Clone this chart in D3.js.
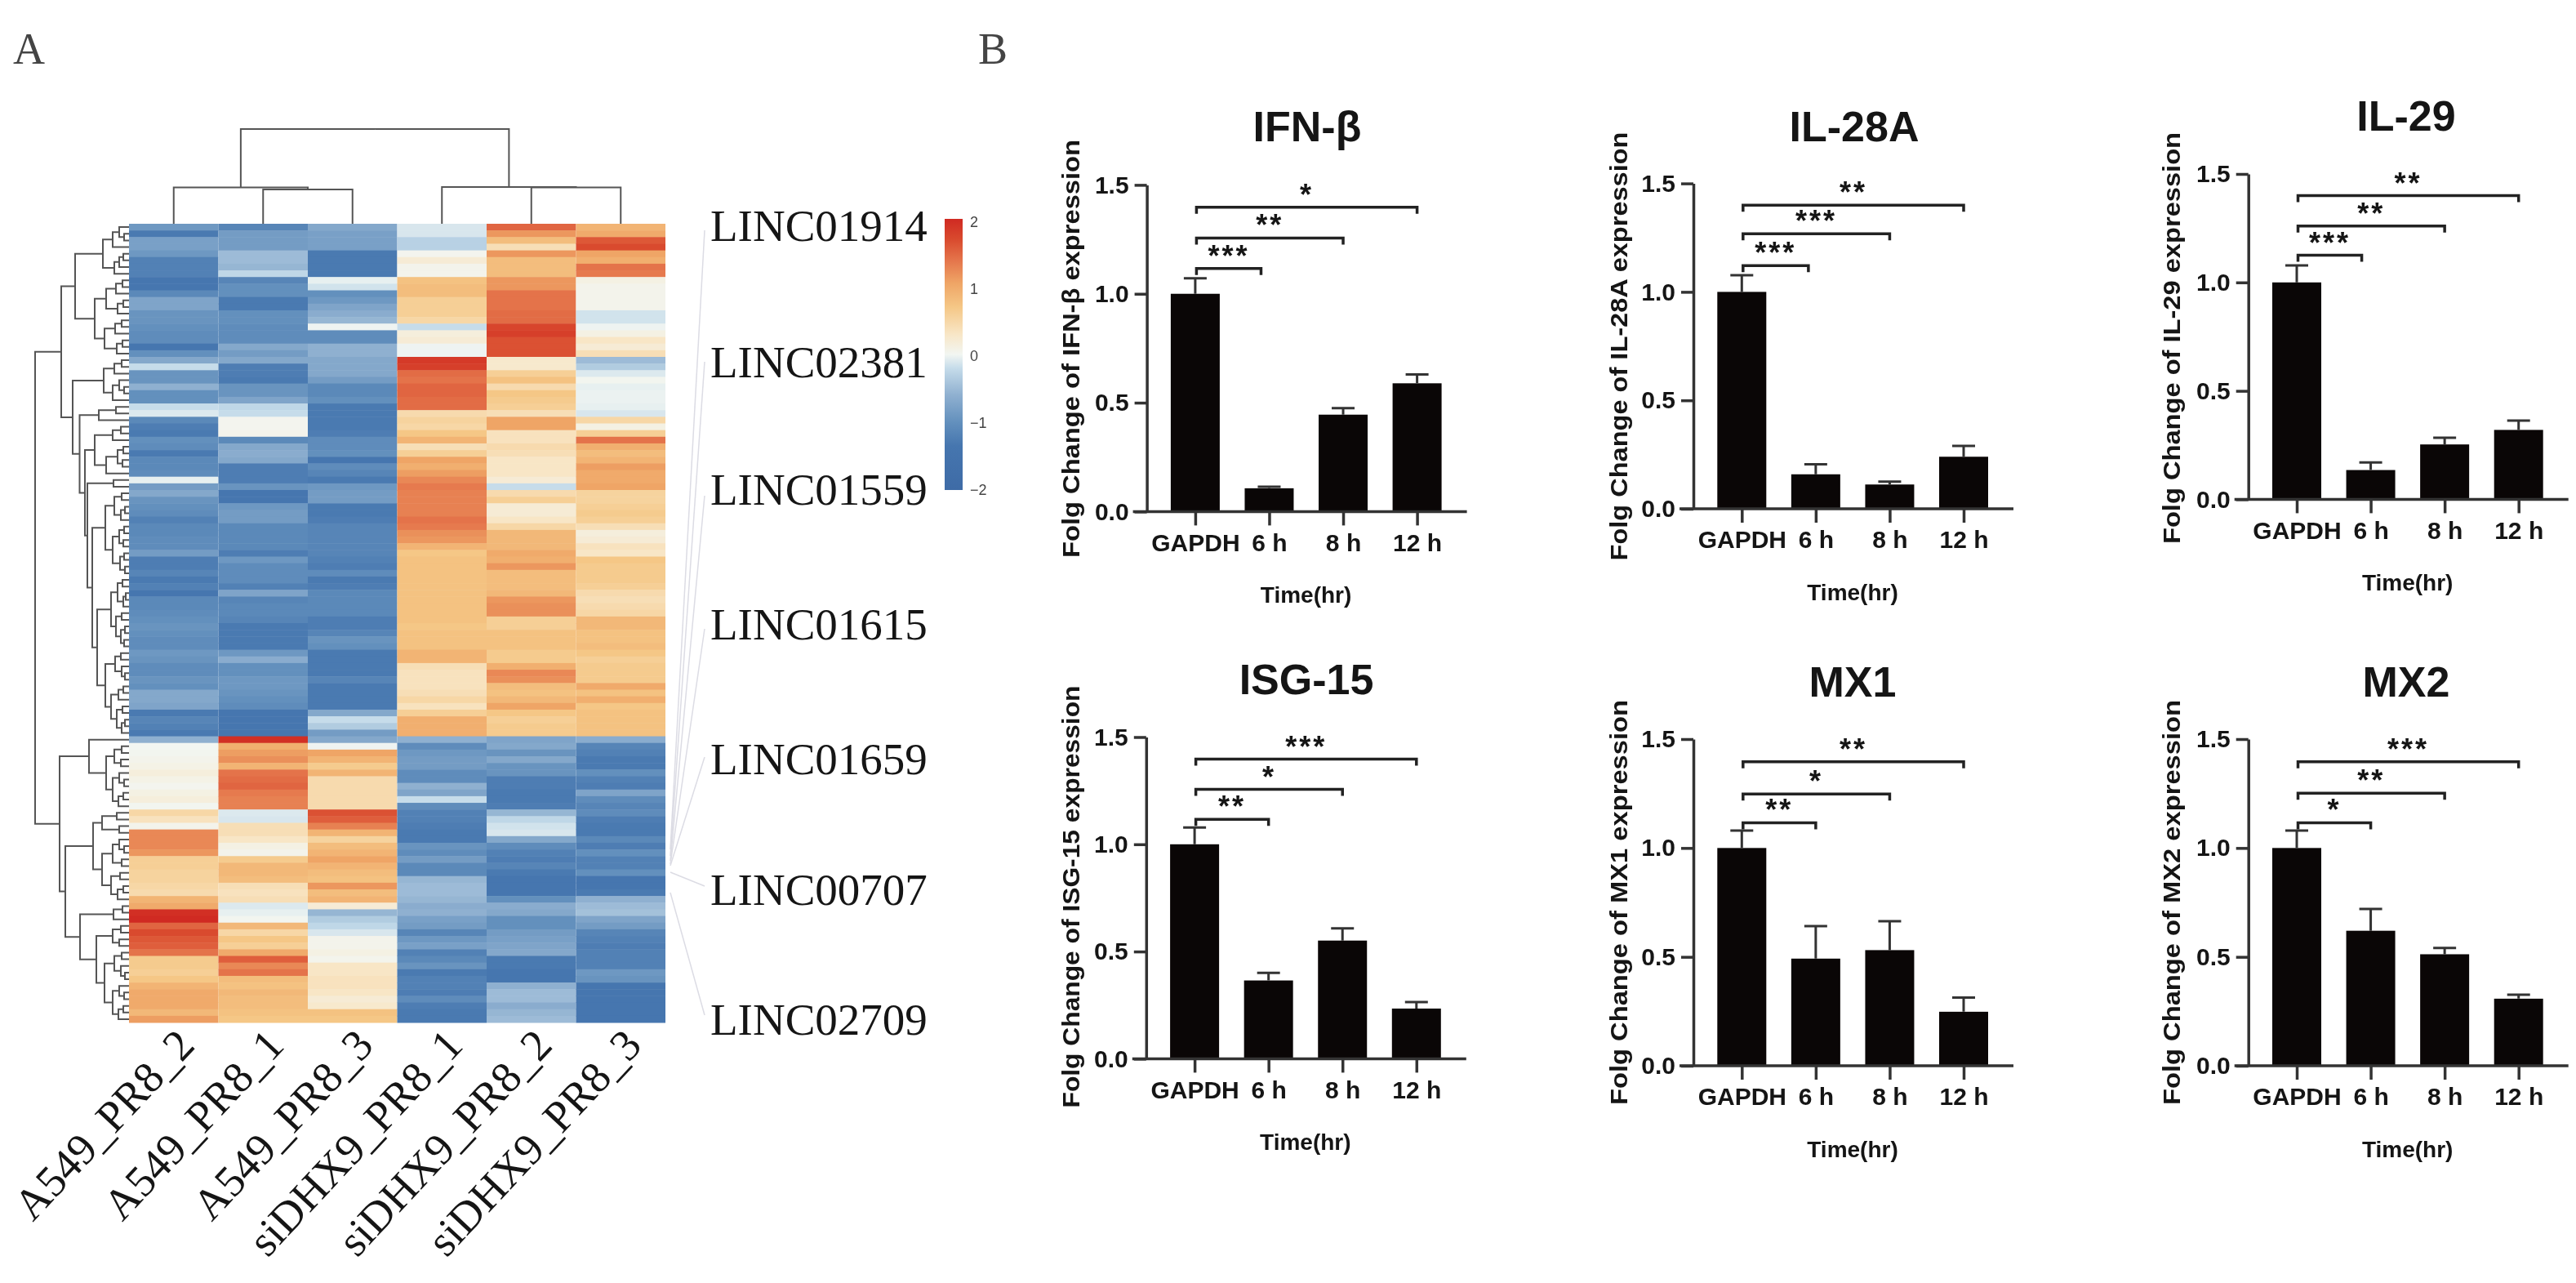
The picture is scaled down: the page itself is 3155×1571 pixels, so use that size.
<!DOCTYPE html>
<html>
  <head>
    <meta charset="utf-8">
    <title>LINC heatmap and interferon bar charts</title>
    <script src="https://cdn.jsdelivr.net/npm/d3@7"></script>
    <style>
      body { margin: 0; background: #fff; }
      #chart { filter: blur(0.7px); }
      text { fill: #151515; }
      .sans { font-family: "Liberation Sans", Arial, sans-serif; font-weight: bold; }
      .serif { font-family: "Liberation Serif", "Times New Roman", serif; font-weight: normal; }
    </style>
  </head>

  <body>
    <svg id="chart" width="3155" height="1571"></svg>

    <script>
      // heatmap data, one list per sample, rows top to bottom
      samples = ["A549_PR8_2", "A549_PR8_1", "A549_PR8_3", "siDHX9_PR8_1", "siDHX9_PR8_2", "siDHX9_PR8_3"];
      a549_2 = [-.9,-1.3,-.8,-.8,-.9,-1.2,-1.2,-1.2,-1.35,-1.35,
        -1.1,-.75,-.75,-.95,-.95,-1,-1.05,-1.05,-1.35,-1,
        -.7,-.2,-.95,-.95,-.6,-1,-1,-.2,-.1,-1.1,
        -1.25,-1.3,-1,-1.05,-1.3,-1.1,-1.1,-1.05,-.05,-.85,
        -.7,-.95,-1,-1.05,-1.2,-1.1,-1.1,-1.05,-1.05,-.85,
        -1.25,-1.25,-1.15,-1.3,-1.2,-1.35,-1.1,-1.1,-1.05,-1,
        -.95,-1,-1.05,-1.05,-.9,-.95,-1.05,-1.05,-.95,-1,
        -.7,-.7,-.75,-1.3,-1.15,-1.2,-1.3,-.6,0,.02,
        .05,.08,.15,.08,.03,.1,.15,.02,.5,.35,
        .05,1.25,1.25,1.25,1.15,.6,.6,.55,.55,.5,
        .45,.9,1,1.95,2,1.5,1.7,1.6,1.55,1.4,
        .65,.65,.6,.7,.9,1,1,1,.85,1.1];
      a549_1 = [-1.15,-.85,-.85,-.85,-.5,-.5,-.55,-.25,-1.15,-1,
        -1,-1.3,-1.3,-1,-1,-1.05,-1.05,-1.05,-.7,-.85,
        -.7,-1.25,-1.25,-1.3,-.95,-.95,-.75,-.25,-.2,.03,
        .03,.05,-1.1,-.7,-.65,-.7,-1.25,-1.25,-1.25,-.95,
        -1.35,-1.35,-.9,-.85,-.85,-1.1,-1.1,-1.1,-1.1,-1.25,
        -.9,-1.05,-1.05,-1.05,-1.2,-.75,-1.15,-1.1,-1.1,-1.15,
        -1.3,-1.3,-1.3,-1.3,-.9,-.65,-1,-1,-.9,-.9,
        -.95,-1,-1.05,-1.35,-1.35,-1.35,-1.35,1.95,.95,1.1,
        1.2,.9,1.4,1.45,1.5,1.35,1.3,1.3,-.1,-.12,
        .4,.4,.3,.1,.05,.65,.85,.85,.8,.4,
        .35,.4,-.1,-.05,.02,.85,.5,.7,.6,1,
        1.55,1.25,1.4,.8,.75,.85,.8,.8,.75,.7];
      a549_3 = [-.7,-.8,-.8,-.8,-1.3,-1.3,-1.3,-1.3,-.05,-.15,
        -1,-.9,-.75,-.65,-.55,-.02,-1.05,-1.05,-.6,-.6,
        -.7,-.7,-.7,-.85,-1.1,-1.1,-1,-1.3,-1.3,-1.3,
        -1.3,-1.25,-1.05,-1.05,-1,-1.35,-1.05,-1.15,-1.3,-.9,
        -.85,-.85,-1.3,-1.3,-1.25,-1.15,-1.15,-1.15,-1.15,-1.15,
        -1.2,-1.25,-1.05,-1.3,-1.25,-1.1,-1.1,-1.1,-1.1,-1.25,
        -1.25,-1.15,-.95,-1,-1.3,-1.3,-1.3,-1.3,-1.15,-1.3,
        -1.3,-1.3,-1.3,-.7,-.2,-.35,-.85,-.7,-.02,1.05,
        .9,.65,.9,.45,.45,.45,.45,.45,1.65,1.55,
        1.3,.9,.55,.8,.9,1.05,.9,.8,.75,1.15,
        .8,.9,.2,-.55,-.35,-.25,-.12,.05,.05,.1,
        .04,.3,.3,.35,.35,.3,.2,.25,.75,.7];
      si_1 = [-.12,-.12,-.3,-.3,.03,.2,.05,.05,.75,.8,
        .8,.6,.6,.6,.5,-.2,.15,.2,-.02,-.02,
        1.85,1.8,1.45,1.4,1.5,1.5,1.45,1.45,.45,.55,
        .5,.7,.9,.4,.6,1.05,.95,1.1,1.25,1.35,
        1.3,1.3,1.3,1.3,1.4,1.35,1.2,1.15,.9,.7,
        .75,.75,.75,.75,.75,.75,.75,.75,.75,.75,
        .7,.75,.75,.75,.9,.9,.4,.35,.35,.35,
        .4,.5,.35,.6,.95,.95,.95,-.6,-1.05,-.9,
        -.85,-.85,-1.05,-1.05,-.6,-.75,-.2,-1.05,-1.2,-1.2,
        -1.25,-1.3,-1.3,-.95,-1.05,-.85,-1.1,-1.1,-.55,-.5,
        -.5,-.55,-.65,-.6,-.8,-.85,-1.15,-.9,-.8,-1.2,
        -1.1,-.95,-1.3,-1.2,-1.2,-1.25,-1.05,-1.25,-1.3,-1.3];
      si_2 = [1.5,1.15,.8,.4,1.15,.8,.8,.8,1.15,1.15,
        1.4,1.4,1.4,1.45,1.45,1.75,1.8,1.65,1.65,1.65,
        .25,.25,.6,.75,.45,.7,.65,.6,.4,1.05,
        1.05,.35,.35,.45,.4,.3,.3,.3,.2,-.2,
        .45,.6,.2,.2,.3,.5,.85,.85,.85,1,
        .95,1.15,.8,.8,.8,.85,1.15,1.2,1.2,.6,
        .6,.75,.75,.75,.65,.65,.95,1.25,1.2,.8,
        .75,.85,1.05,.7,.6,.65,.65,-.75,-.7,-.95,
        -.7,-.95,-.95,-1.25,-1.25,-1.3,-1.3,-1.25,-.55,-.25,
        -.15,-.12,-.7,-1.05,-1.2,-1.25,-1.15,-1.3,-1.35,-1.35,
        -1.35,-1,-.65,-.7,-1,-1,-.85,-.8,-.75,-.7,
        -1.3,-1.3,-1.35,-1.35,-.6,-.5,-.5,-.65,-.55,-.5];
      si_3 = [.9,1,1.6,1.7,1.05,.95,1.4,1.35,.1,.05,
        .05,.05,.05,-.15,-.15,-.02,.1,.3,.2,.4,
        -.5,-.35,-.1,.02,-.05,-.03,-.03,-.05,-.12,.5,
        .1,.6,1.4,.95,.8,.9,1.1,1,1,1.05,
        .55,.55,.6,.65,.6,.4,.15,.2,.35,.3,
        .7,.65,.65,.65,.6,.45,.4,.45,.5,.85,
        .85,.75,.75,.8,.7,.6,.65,.65,.65,1,
        .75,.95,.7,.75,.75,.75,.75,-.65,-1.15,-1.2,
        -1.3,-1.3,-1,-1.2,-1.25,-.75,-1.05,-1.15,-1.05,-1.25,
        -1.3,-1.3,-1.1,-1.25,-1,-1.2,-1.2,-1,-1.35,-1.35,
        -1.3,-.6,-.5,-.45,-.75,-.85,-1.15,-1.2,-1.25,-1.2,
        -1.2,-1.2,-.9,-.95,-1.35,-1.35,-1.35,-1.35,-1.35,-1.35];
      heatValues = [a549_2, a549_1, a549_3, si_1, si_2, si_3];
      legendTicks = [-2, -1, 0, 1, 2];
      lincLabels = ["LINC01914", "LINC02381", "LINC01559", "LINC01615", "LINC01659", "LINC00707", "LINC02709"];

      // dendrograms: [merge distance, child, child], 0 is a leaf
      columnTree = [116, [44.5, 0, [42, 0, 0]], [45, 0, [44.5, 0, 0]]];
      rowTree = [115,
        [83,
          [66,
            [32, [20, [12, 0, [6, 0, 0]], 0], [18, [12, [7, 0, 0], 0], 0]],
            [42, [28, [16, [8, 0, 0], 0], [14, [7, 0, 0], 0]], [30, [17, [9, 0, 0], 0], [15, [8, 0, 0], 0]]]],
          [69,
            [31, [18, [9, 0, 0], 0], [20, [12, 0, [6, 0, 0]], 0]],
            [60.5,
              [37, [16, 0, 0], 0],
              [54,
                [42, [20, [10, 0, 0], 0], [28, [14, [7, 0, 0], [8, 0, 0]], 0]],
                [51,
                  [19, 0, 0],
                  [45,
                    [29, [18, [9, 0, 0], [10, [5, 0, 0], 0]], [20, [12, [6, 0, 0], [7, 0, 0]], [11, [6, 0, 0], [5, 0, 0]]]],
                    [39,
                      [22, [14, [8, 0, 0], [7, [4, 0, 0], 0]], [16, [9, 0, 0], [10, [5, 0, 0], [6, 0, 0]]]],
                      [29, [17, [10, 0, 0], [9, 0, [5, 0, 0]]], [22, [13, [7, 0, 0], 0], [15, [8, 0, 0], [9, [5, 0, 0], 0]]]]]]]]]]],
        [85,
          [49, 0, [28, [18, [9, 0, 0], [10, 0, 0]], [20, [12, 0, [6, 0, 0]], [13, [7, 0, 0], 0]]]],
          [78,
            [44,
              [33, [15, 0, 0], [12, 0, 0]],
              [33, [20, [12, 0, [6, 0, 0]], [9, 0, 0]], [22, [11, 0, 0], [14, [7, 0, 0], 0]]]],
            [60,
              [19, [8, 0, 0], 0],
              [40,
                [20, [10, 0, 0], [12, 0, 0]],
                [30, [18, [9, 0, 0], [10, 0, [5, 0, 0]]], [20, [12, 0, [6, 0, 0]], [13, [7, 0, 0], 0]]]]]]]];

      // bar chart data
      genes = ["IFN-β", "IL-28A", "IL-29", "ISG-15", "MX1", "MX2"];
      conditions = ["GAPDH", "6 h", "8 h", "12 h"];
      yTicks = [0, 0.5, 1, 1.5];
      meansIfn = [1, .107, .445, .589];
      meansIl28 = [1, .159, .112, .24];
      meansIl29 = [1, .135, .253, .32];
      meansIsg = [1, .365, .551, .234];
      meansMx1 = [1, .492, .531, .248];
      meansMx2 = [1, .62, .512, .308];
      capsIfn = [1.071, .114, .475, .63];
      capsIl28 = [1.077, .205, .125, .29];
      capsIl29 = [1.078, .17, .284, .363];
      capsIsg = [1.078, .4, .608, .264];
      capsMx1 = [1.08, .641, .664, .313];
      capsMx2 = [1.08, .72, .541, .326];
      // significance brackets, lowest first (GAPDH vs 6 h, 8 h, 12 h)
      levelsIfn = [1.116, 1.256, 1.397];
      levelsIl28 = [1.121, 1.268, 1.4];
      levelsIl29 = [1.125, 1.26, 1.4];
      levelsIsg = [1.116, 1.256, 1.397];
      levelsMx1 = [1.116, 1.248, 1.396];
      levelsMx2 = [1.116, 1.252, 1.396];
      starsIfn = ["***", "**", "*"];
      starsIl28 = ["***", "***", "**"];
      starsIl29 = ["***", "**", "**"];
      starsIsg = ["**", "*", "***"];
      starsMx1 = ["**", "*", "**"];
      starsMx2 = ["*", "**", "***"];
      means = [meansIfn, meansIl28, meansIl29, meansIsg, meansMx1, meansMx2];
      caps = [capsIfn, capsIl28, capsIl29, capsIsg, capsMx1, capsMx2];
      levels = [levelsIfn, levelsIl28, levelsIl29, levelsIsg, levelsMx1, levelsMx2];
      stars = [starsIfn, starsIl28, starsIl29, starsIsg, starsMx1, starsMx2];

      // layout of the six bar panels
      panels = [
        { axisX: 1404.6, yTop: 226.4, yBase: 626.4, titleX: 1601, titleY: 173, labelX: 1322, labelY: 427, labelLen: 512, lowShift: -10 },
        { axisX: 2074, yTop: 224.6, yBase: 623, titleX: 2271, titleY: 173, labelX: 1993, labelY: 424, labelLen: 525, lowShift: -9 },
        { axisX: 2753.7, yTop: 213, yBase: 611.4, titleX: 2947, titleY: 160, labelX: 2670, labelY: 414, labelLen: 504, lowShift: -11 },
        { axisX: 1403.8, yTop: 902.5, yBase: 1296.4, titleX: 1600, titleY: 850, labelX: 1322, labelY: 1098, labelLen: 517, lowShift: 0 },
        { axisX: 2074, yTop: 905, yBase: 1305, titleX: 2269, titleY: 853, labelX: 1993, labelY: 1105, labelLen: 496, lowShift: 0 },
        { axisX: 2753.7, yTop: 905, yBase: 1305, titleX: 2947, titleY: 853, labelX: 2670, labelY: 1105, labelLen: 496, lowShift: 0 }
      ];

      svg = d3.select("#chart");

      // panel letters
      svg.append("text").attr("class", "serif").attr("x", 16).attr("y", 78).attr("font-size", 54).style("fill", "#444").text("A");
      svg.append("text").attr("class", "serif").attr("x", 1198).attr("y", 78).attr("font-size", 54).style("fill", "#444").text("B");

      drawHeatmap();
      panels.forEach(drawPanel);

      function drawHeatmap() {
        heatLeft = 158;
        heatRight = 815;
        heatTop = 274;
        heatBottom = 1252;
        colour = d3.scaleLinear()
          .domain([-2, -1.35, -1, -.6, -.2, 0, .3, .7, 1.05, 1.4, 1.7, 2])
          .range(["#3e6ba6", "#4676af", "#6390bd", "#8fb0d0", "#c6dcea", "#f2f6f2", "#f8e6c6", "#f5c786", "#efa566", "#e4734a", "#d94a2e", "#d02a22"]);
        x = d3.scaleBand().domain(samples).range([heatLeft, heatRight]);
        y = d3.scaleBand().domain(d3.range(a549_2.length)).range([heatTop, heatBottom]);

        heat = svg.append("g");
        heatValues.forEach(function(col, i) {
          heat.selectAll(null)
            .data(col)
            .join("rect")
              .attr("x", x(samples[i]))
              .attr("y", function(d, r) { return y(r); })
              .attr("width", x.bandwidth())
              .attr("height", y.bandwidth() + .5)
              .attr("fill", function(d) { return colour(d); });
        });

        // sample labels
        svg.selectAll(null)
          .data(samples)
          .join("text")
            .attr("class", "serif")
            .attr("font-size", 54)
            .attr("text-anchor", "end")
            .attr("transform", function(d) {
              return "translate(" + (x(d) + x.bandwidth() / 2 + 28) + ",1282) rotate(-47)";
            })
            .text(function(d) { return d; });

        // column dendrogram
        columnRoot = d3.hierarchy(columnTree, kids);
        leafX = 0;
        columnRoot.eachAfter(function(n) {
          n.px = n.children ? d3.mean(n.children, function(c) { return c.px; }) : x(samples[leafX++]) + x.bandwidth() / 2;
          n.py = heatTop - height(n);
        });
        drawTree(columnRoot, function(n) {
          return n.children.map(function(c) {
            return "M" + c.px + "," + c.py + "V" + n.py + "H" + n.px;
          }).join("");
        });

        // row dendrogram
        rowRoot = d3.hierarchy(rowTree, kids);
        leafY = 0;
        rowRoot.eachAfter(function(n) {
          n.py = n.children ? d3.mean(n.children, function(c) { return c.py; }) : y(leafY++) + y.bandwidth() / 2;
          n.px = heatLeft - height(n);
        });
        drawTree(rowRoot, function(n) {
          return n.children.map(function(c) {
            return "M" + c.px + "," + c.py + "H" + n.px + "V" + n.py;
          }).join("");
        });

        // labels with their leader lines
        rightEnds = [1040, 1048, 1054, 1058, 1060, 1068, 1093];
        baselines = [295, 462, 618, 783, 948, 1108, 1267];
        leaderStarts = [282, 443, 607, 770, 927, 1085, 1243];
        svg.selectAll(null)
          .data(lincLabels)
          .join("text")
            .attr("class", "serif")
            .attr("x", 870)
            .attr("y", function(d, i) { return baselines[i]; })
            .attr("font-size", 55)
            .text(function(d) { return d; });
        svg.selectAll(null)
          .data(lincLabels)
          .join("line")
            .attr("x1", 863)
            .attr("y1", function(d, i) { return leaderStarts[i]; })
            .attr("x2", 821)
            .attr("y2", function(d, i) { return rightEnds[i]; })
            .attr("stroke", "#dcdce4")
            .attr("stroke-width", 1.5);

        // colour legend
        defs = svg.append("defs");
        gradient = defs.append("linearGradient")
          .attr("id", "legendGradient")
          .attr("x1", "0%").attr("x2", "0%").attr("y1", "100%").attr("y2", "0%");
        colour.domain().forEach(function(d) {
          gradient.append("stop")
            .attr("offset", ((d + 2) / 4 * 100) + "%")
            .attr("stop-color", colour(d));
        });
        legendScale = d3.scaleLinear().domain([-2, 2]).range([600, 272]);
        svg.append("rect")
          .attr("x", 1157)
          .attr("y", 268)
          .attr("width", 22)
          .attr("height", 332)
          .attr("fill", "url(#legendGradient)");
        legendAxis = svg.append("g")
          .attr("transform", "translate(1179,0)")
          .call(d3.axisRight(legendScale)
            .tickValues(legendTicks)
            .tickFormat(d3.format("d"))
            .tickSize(0)
            .tickPadding(9));
        legendAxis.select(".domain").remove();
        legendAxis.selectAll("text")
          .attr("font-size", 18)
          .attr("font-family", "Liberation Sans")
          .style("fill", "#444");
      }

      function kids(d) {
        return Array.isArray(d) ? d.slice(1) : null;
      }

      function height(n) {
        return Array.isArray(n.data) ? n.data[0] : 0;
      }

      function drawTree(root, segment) {
        svg.append("path")
          .attr("d", root.descendants().filter(function(n) { return n.children; }).map(segment).join(""))
          .attr("fill", "none")
          .attr("stroke", "#555")
          .attr("stroke-width", 2);
      }

      function drawPanel(p, i) {
        panel = svg.append("g");

        yScale = d3.scaleLinear().domain([0, 1.5]).range([p.yBase, p.yTop]);
        xScale = d3.scalePoint().domain(conditions).range([p.axisX + 59.3, p.axisX + 331]);
        barWidth = 60;

        // bars and error bars
        panel.selectAll(null)
          .data(means[i])
          .join("rect")
            .attr("x", function(d, j) { return xScale(conditions[j]) - barWidth / 2; })
            .attr("y", function(d) { return yScale(d); })
            .attr("width", barWidth)
            .attr("height", function(d) { return p.yBase - yScale(d); })
            .attr("fill", "#0a0606");
        panel.selectAll(null)
          .data(caps[i])
          .join("path")
            .attr("d", function(d, j) {
              bx = xScale(conditions[j]);
              return "M" + bx + "," + yScale(means[i][j]) + "V" + yScale(d) + "M" + (bx - 14) + "," + yScale(d) + "H" + (bx + 14);
            })
            .attr("fill", "none")
            .attr("stroke", "#333")
            .attr("stroke-width", 3);

        // axes
        yAxis = panel.append("g")
          .attr("transform", "translate(" + p.axisX + ",0)")
          .call(d3.axisLeft(yScale)
            .tickValues(yTicks)
            .tickFormat(d3.format(".1f"))
            .tickSize(15)
            .tickPadding(7)
            .tickSizeOuter(0));
        xAxis = panel.append("g")
          .attr("transform", "translate(0," + p.yBase + ")")
          .call(d3.axisBottom(xScale)
            .tickSize(17)
            .tickPadding(10)
            .tickSizeOuter(0));
        xAxis.select(".domain").attr("d", "M" + (p.axisX - 17) + ",0H" + (p.axisX + 392));
        panel.selectAll(".domain, .tick line").attr("stroke", "#333").attr("stroke-width", 3.5);
        panel.selectAll(".tick text")
          .attr("class", "sans")
          .attr("font-size", 30)
          .attr("font-family", null);

        // significance brackets
        [1, 2, 3].forEach(function(target, k) {
          left = xScale(conditions[0]) + 1.5;
          right = xScale(conditions[target]) + (k === 0 ? p.lowShift : 0);
          by = yScale(levels[i][k]);
          panel.append("path")
            .attr("d", "M" + left + "," + (by + 8) + "V" + by + "H" + right + "V" + (by + 8))
            .attr("fill", "none")
            .attr("stroke", "#222")
            .attr("stroke-width", 3.5);
          panel.append("text")
            .attr("class", "sans")
            .attr("x", (left + right) / 2)
            .attr("y", by - 3)
            .attr("text-anchor", "middle")
            .attr("font-size", 36)
            .attr("letter-spacing", 3)
            .text(stars[i][k]);
        });

        // titles and axis labels
        panel.append("text")
          .attr("class", "sans")
          .attr("x", p.titleX)
          .attr("y", p.titleY)
          .attr("text-anchor", "middle")
          .attr("font-size", 52)
          .text(genes[i]);
        panel.append("text")
          .attr("class", "sans")
          .attr("transform", "translate(" + p.labelX + "," + p.labelY + ") rotate(-90)")
          .attr("text-anchor", "middle")
          .attr("font-size", 30)
          .attr("textLength", p.labelLen)
          .attr("lengthAdjust", "spacingAndGlyphs")
          .text("Folg Change of " + genes[i] + " expression");
        panel.append("text")
          .attr("class", "sans")
          .attr("x", p.axisX + 195)
          .attr("y", p.yBase + 112)
          .attr("text-anchor", "middle")
          .attr("font-size", 28)
          .text("Time(hr)");
      }
    </script>
  </body>
</html>
